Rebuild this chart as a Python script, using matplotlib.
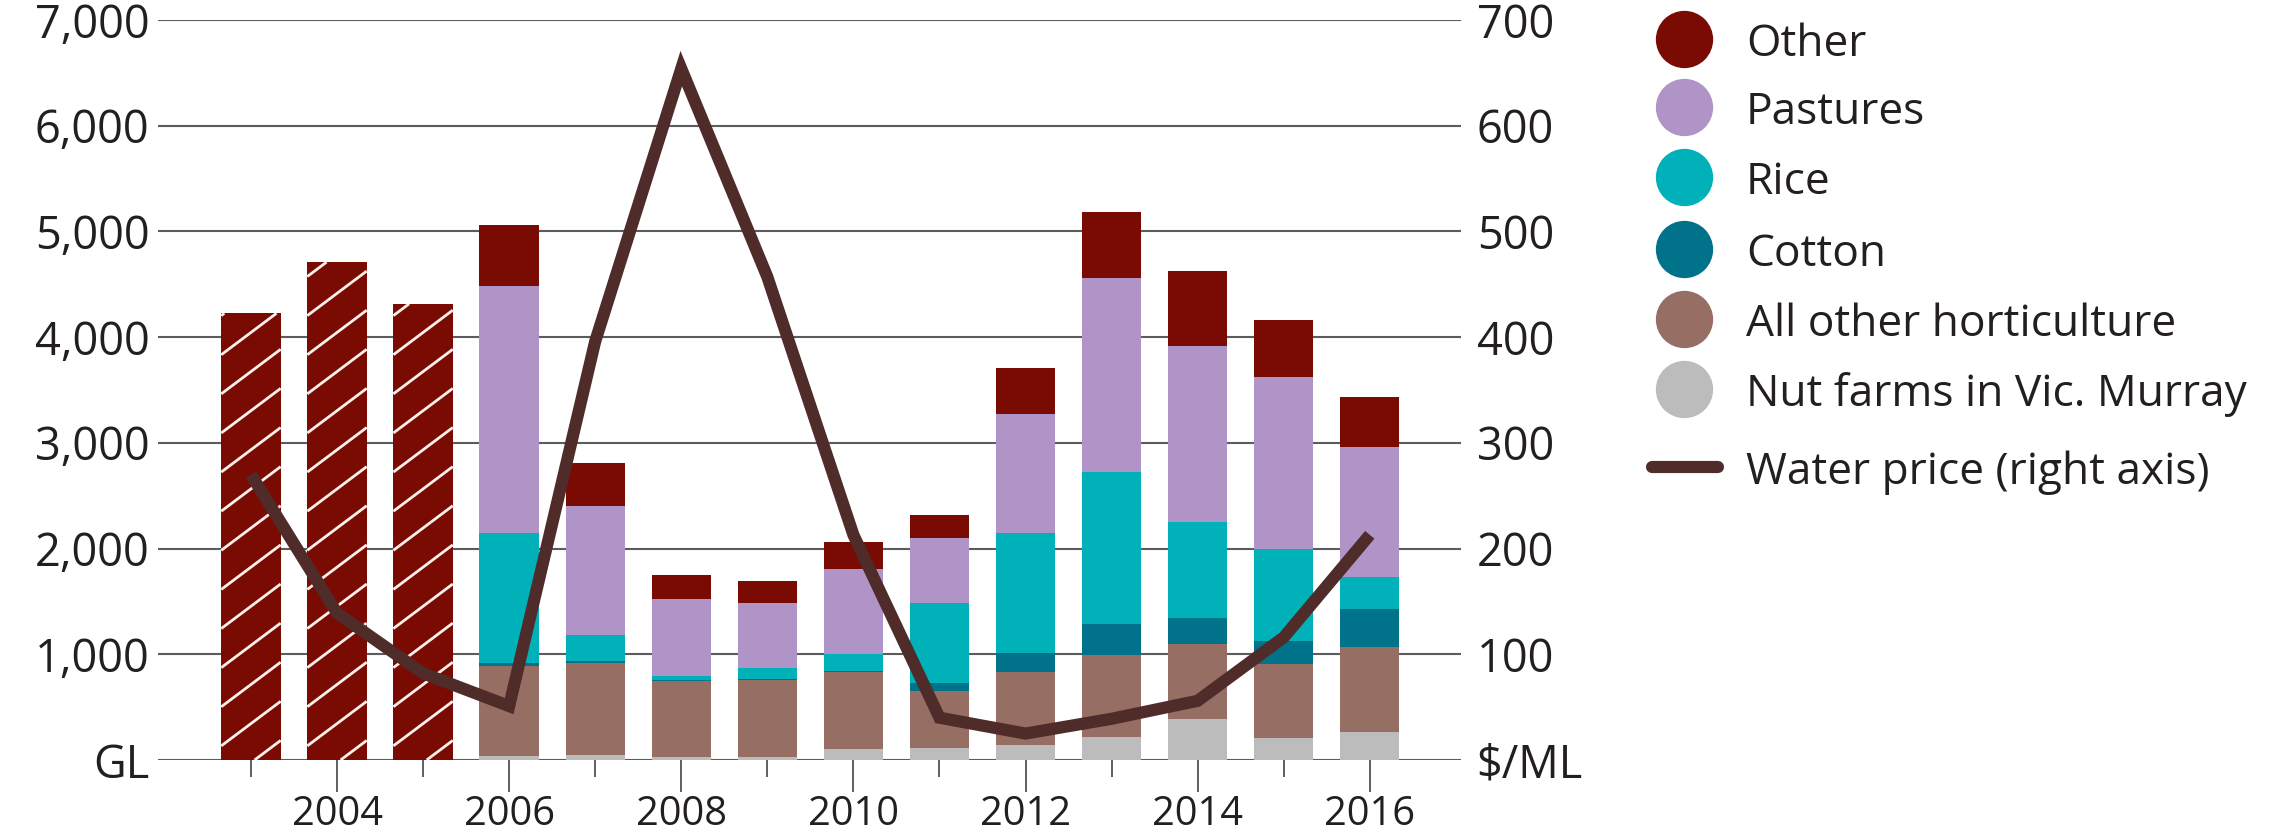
import matplotlib.pyplot as plt
from matplotlib.lines import Line2D
from matplotlib.collections import LineCollection
import numpy as np

plt.rcParams['font.family'] = ['Open Sans', 'DejaVu Sans']

# total diversions for the years before the split by use is available
early_years = [2003, 2004, 2005]
early_totals = [4225, 4710, 4315]

years = [2006, 2007, 2008, 2009, 2010, 2011, 2012, 2013, 2014, 2015, 2016]
nut_farms = [40, 50, 30, 30, 100, 118, 146, 222, 387, 207, 267]
horticulture = [853, 865, 713, 728, 731, 538, 689, 768, 713, 703, 802]
cotton = [22, 22, 17, 7, 9, 75, 179, 299, 241, 217, 358]
rice = [1232, 244, 36, 103, 166, 758, 1129, 1440, 912, 872, 303]
pastures = [2336, 1223, 724, 621, 797, 613, 1130, 1835, 1664, 1625, 1229]
other = [580, 401, 226, 200, 257, 213, 437, 616, 706, 534, 476]

price_years = list(range(2003, 2017))
water_price = [270, 139, 82, 51, 396, 654, 457, 213, 40, 25, 39, 56, 116, 213]

c_other = '#7a0b02'
c_past = '#b094c8'
c_rice = '#00b1b9'
c_cotton = '#00738a'
c_hort = '#976e63'
c_nut = '#bdbcbc'
c_line = '#4f2b29'
c_grid = '#5c5c5e'
c_text = '#231f20'

W, H = 2275, 836
fig = plt.figure(figsize=(W / 125, H / 125), dpi=125)
ax = fig.add_axes([158 / W, 76 / H, (1461 - 158) / W, 740 / H])
ax.set_xlim(2001.92, 2017.06)
ax.set_ylim(0, 7000)

bw = 0.69
early = ax.bar(early_years, early_totals, width=bw, color=c_other,
               linewidth=0, zorder=2)


def stripes(x0, x1, top, slope=611.0, gap=370.0):
    # diagonal segments y = b + slope*(x - x0), cut to the box [x0, x1] x [0, top]
    segs = []
    for b in np.arange(gap / 2 - slope * (x1 - x0), top, gap):
        xa = max(x0, x0 - b / slope)
        xb = min(x1, x0 + (top - b) / slope)
        if xb > xa:
            segs.append([(xa, b + slope * (xa - x0)), (xb, b + slope * (xb - x0))])
    return segs


for rect in early:
    x0 = rect.get_x()
    segs = stripes(x0, x0 + rect.get_width(), rect.get_height())
    ax.add_collection(LineCollection(segs, colors='#fbf0ec', linewidths=1.6,
                                     capstyle='butt', zorder=2.5))

stack = [(nut_farms, c_nut), (horticulture, c_hort), (cotton, c_cotton),
         (rice, c_rice), (pastures, c_past), (other, c_other)]
bottom = np.zeros(len(years))
for vals, col in stack:
    ax.bar(years, vals, width=bw, bottom=bottom, color=col, linewidth=0, zorder=2)
    bottom += np.array(vals)

ax.set_yticks(range(0, 7001, 1000))
ax.set_yticklabels(['GL'] + [f'{v:,}' for v in range(1000, 7001, 1000)])
ax.grid(axis='y', color=c_grid, linewidth=1.2, zorder=1)
ax.set_axisbelow(True)
for s in ax.spines.values():
    s.set_visible(False)

ax.set_xticks(range(2004, 2017, 2))
ax.set_xticks(range(2003, 2017, 2), minor=True)
ax.tick_params(axis='x', which='major', length=18.5, width=1.1, color=c_grid,
               labelsize=23, labelcolor=c_text, pad=1.5)
ax.tick_params(axis='x', which='minor', length=10, width=1.1, color=c_grid)
ax.tick_params(axis='y', length=0, labelsize=26, labelcolor=c_text, pad=5)

ax2 = ax.twinx()
ax2.plot(price_years, water_price, color=c_line, linewidth=7,
         solid_joinstyle='miter', solid_capstyle='butt', zorder=3)
ax2.set_ylim(0, 700)
ax2.set_yticks(range(0, 701, 100))
ax2.set_yticklabels(['$/ML'] + [str(v) for v in range(100, 701, 100)])
ax2.tick_params(axis='y', length=0, labelsize=26, labelcolor=c_text, pad=9)
for s in ax2.spines.values():
    s.set_visible(False)

# legend drawn by hand on the right
labels = ['Other', 'Pastures', 'Rice', 'Cotton', 'All other horticulture',
          'Nut farms in Vic. Murray']
colors = [c_other, c_past, c_rice, c_cotton, c_hort, c_nut]
rows = [39, 107, 177, 249, 319, 389]
for lab, col, y in zip(labels, colors, rows):
    fig.add_artist(Line2D([1684 / W], [1 - y / H], transform=fig.transFigure,
                          marker='o', markersize=32, color=col, linestyle=''))
    fig.text(1746 / W, 1 - y / H, lab, fontsize=25.5, color=c_text,
             va='center_baseline', ha='left')
fig.add_artist(Line2D([1652 / W, 1718 / W], [1 - 467 / H] * 2,
                      transform=fig.transFigure, color=c_line, linewidth=7,
                      solid_capstyle='round'))
fig.text(1746 / W, 1 - 467 / H, 'Water price (right axis)', fontsize=25.5,
         color=c_text, va='center_baseline', ha='left')

fig.savefig('out.png', dpi=125, facecolor='white')
